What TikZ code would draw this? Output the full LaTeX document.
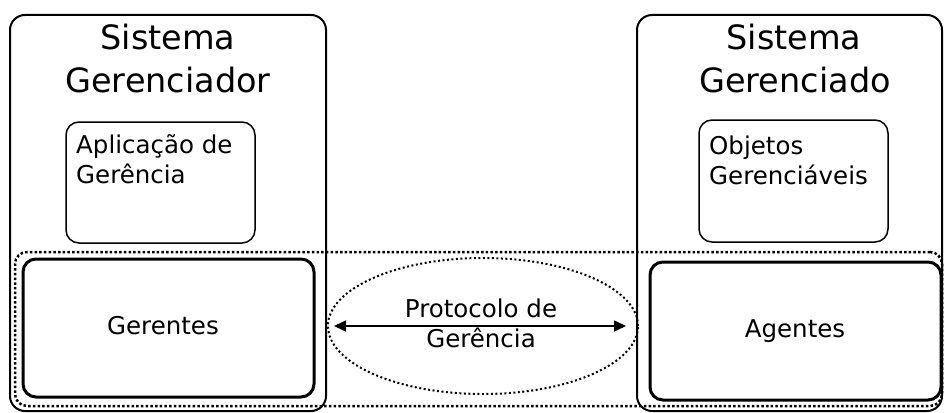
\documentclass[tikz,border=0pt]{standalone}
\usepackage{fontspec}
\setmainfont{DejaVu Sans}
\usetikzlibrary{shapes.geometric,arrows.meta}
\begin{document}
\begin{tikzpicture}[x=1pt,y=-1pt,
  bigbox/.style={draw,line width=2pt,rounded corners=15pt,inner sep=0pt},
  appbox/.style={draw,line width=1.5pt,rounded corners=13pt,inner sep=0pt},
  corebox/.style={draw,line width=3pt,rounded corners=13pt,inner sep=0pt},
  groupbox/.style={draw,line width=2.5pt,dash pattern=on 2.5pt off 2.2pt,rounded corners=12pt,inner sep=0pt},
  title/.style={font=\fontsize{33.5}{43}\selectfont,inner sep=0pt},
  small/.style={font=\fontsize{24.5}{30}\selectfont,inner sep=0pt}]
\useasboundingbox (0,0) rectangle (944,412);
% system boxes
\node[bigbox,minimum width=316pt,minimum height=396pt] (mgr) at (168,213) {};
\node[bigbox,minimum width=305pt,minimum height=396pt] (mgd) at (789.5,213) {};
% titles
\node[title,anchor=base] (t1a) at (168,49) {Sistema};
\node[title,anchor=base] (t1b) at (168,92) {Gerenciador};
\node[title,anchor=base] (t2a) at (794,49) {Sistema};
\node[title,anchor=base] (t2b) at (795,92) {Gerenciado};
% upper inner boxes
\node[appbox,minimum width=189pt,minimum height=121pt] (app) at (160.5,182.5) {};
\node[small,anchor=base west] (appa) at (76,153) {Aplicação de};
\node[small,anchor=base west] (appb) at (76,183) {Gerência};
\node[appbox,minimum width=189pt,minimum height=122pt] (obj) at (793.5,181) {};
\node[small,anchor=base west] (obja) at (709,154) {Objetos};
\node[small,anchor=base west] (objb) at (709,184) {Gerenciáveis};
% dotted group
\node[groupbox,minimum width=927pt,minimum height=154pt] (grp) at (478.5,329) {};
% core boxes
\node[corebox,minimum width=291pt,minimum height=138pt] (ger) at (168.5,328) {};
\node[small,anchor=base] (gert) at (163,334) {Gerentes};
\node[corebox,minimum width=291pt,minimum height=138pt] (age) at (795.5,331) {};
\node[small,anchor=base] (aget) at (795,337) {Agentes};
% protocol ellipse
\node[ellipse,draw,line width=2pt,dash pattern=on 2pt off 2.5pt,minimum width=310pt,minimum height=136pt,inner sep=0pt] (proto) at (483,326) {};
\node[small,anchor=base] (pa) at (481,317) {Protocolo de};
\node[small,anchor=base] (pb) at (481,347) {Gerência};
\draw[line width=1.5pt,{Triangle[length=12pt,width=11pt]}-{Triangle[length=12pt,width=11pt]},shorten <=7pt,shorten >=13pt] (proto.west) -- (proto.east);
\end{tikzpicture}
\end{document}
